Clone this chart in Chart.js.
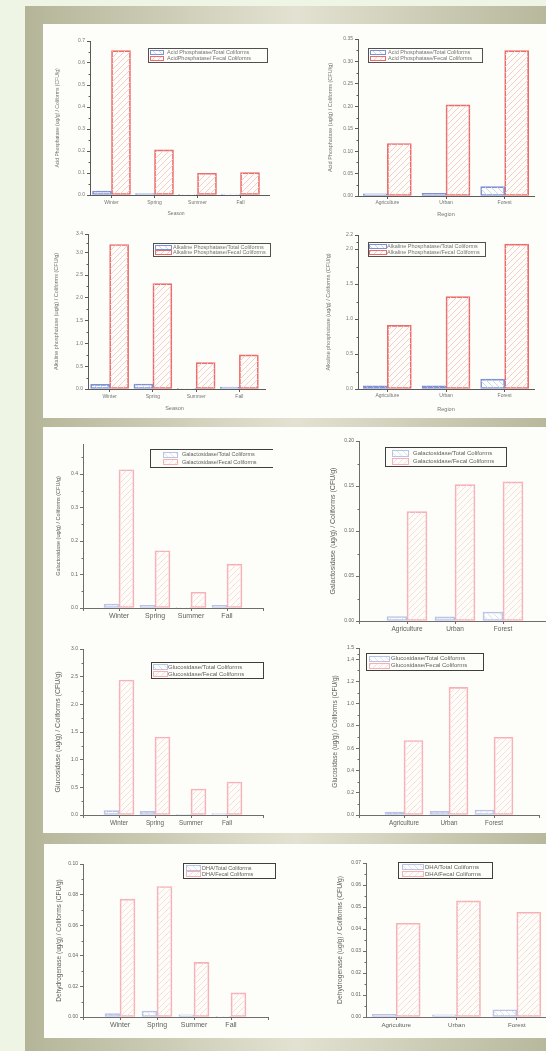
<!DOCTYPE html>
<html>
<head>
<meta charset="utf-8">
<script src="https://cdn.jsdelivr.net/npm/chart.js@4.4.0/dist/chart.umd.min.js"></script>
<style>
html, body { margin: 0; padding: 0; overflow: hidden; }
body { width: 546px; height: 1051px; background: #eef5e4; position: relative; }
#frame { position: absolute; left: 25px; top: 6px; width: 521px; height: 1045px;
  background: linear-gradient(90deg, #b4b598 0%, #e3e2d2 52%, #b7b89c 100%); }
.panel { position: absolute; left: 43px; width: 503px; background: #fdfdf9; }
canvas { position: absolute; }
</style>
</head>
<body>
<div id="frame"></div>
<div class="panel" style="top:24px;height:394px"></div>
<div class="panel" style="top:427px;height:406px"></div>
<div class="panel" style="top:844px;height:194px;left:44px"></div>
<script>
const seasons = ["Winter", "Spring", "Summer", "Fall"];
const regions = ["Agriculture", "Urban", "Forest"];

const acidSeasonTotal = [0.018, 0.007, 0.003, 0.004];
const acidSeasonFecal = [0.656, 0.205, 0.099, 0.102];
const acidRegionTotal = [0.005, 0.006, 0.021];
const acidRegionFecal = [0.117, 0.203, 0.324];
const alkSeasonTotal = [0.10, 0.11, 0.015, 0.04];
const alkSeasonFecal = [3.17, 2.31, 0.58, 0.75];
const alkRegionTotal = [0.045, 0.045, 0.14];
const alkRegionFecal = [0.91, 1.32, 2.07];
const galSeasonTotal = [0.012, 0.008, 0.001, 0.008];
const galSeasonFecal = [0.413, 0.171, 0.047, 0.131];
const galRegionTotal = [0.005, 0.0045, 0.010];
const galRegionFecal = [0.1215, 0.1515, 0.1545];
const gluSeasonTotal = [0.078, 0.066, 0.01, 0.024];
const gluSeasonFecal = [2.44, 1.41, 0.47, 0.596];
const gluRegionTotal = [0.027, 0.033, 0.045];
const gluRegionFecal = [0.669, 1.146, 0.698];
const dhaSeasonTotal = [0.0022, 0.0039, 0.0015, 0.0005];
const dhaSeasonFecal = [0.077, 0.0853, 0.0357, 0.0158];
const dhaRegionTotal = [0.0012, 0.001, 0.0033];
const dhaRegionFecal = [0.0426, 0.0528, 0.0476];

// y axis ranges (max, step) per chart
const yRanges = [[0.7, 0.1], [0.35, 0.05], [3.4, 0.5], [2.2, 0.5], [0.49, 0.1],
                 [0.2, 0.05], [3.0, 0.5], [1.5, 0.2], [0.1, 0.02], [0.07, 0.01]];

const charts = [
  { cats: seasons, total: acidSeasonTotal, fecal: acidSeasonFecal, xTitle: "Season",
    yTitle: "Acid Phosphatase (ug/g) / Coliforms (CFU/g)",
    names: ["Acid Phosphatase/Total Coliforms", "AcidPhosphatase/ Fecal Coliforms"] },
  { cats: regions, total: acidRegionTotal, fecal: acidRegionFecal, xTitle: "Region",
    yTitle: "Acid Phosphatase (ug/g) / Coliforms (CFU/g)",
    names: ["Acid Phosphatase/Total Coliforms", "Acid Phosphatase/Fecal Coliforms"] },
  { cats: seasons, total: alkSeasonTotal, fecal: alkSeasonFecal, xTitle: "Season",
    yTitle: "Alkaline phosphatase (ug/g) / Coliforms (CFU/g)",
    names: ["Alkaline Phosphatase/Total Coliforms", "Alkaline Phosphatase/Fecal Coliforms"] },
  { cats: regions, total: alkRegionTotal, fecal: alkRegionFecal, xTitle: "Region",
    yTitle: "Alkaline phosphatase (ug/g) / Coliforms (CFU/g)",
    names: ["Alkaline Phosphatase/Total Coliforms", "Alkaline Phosphatase/Fecal Coliforms"] },
  { cats: seasons, total: galSeasonTotal, fecal: galSeasonFecal,
    yTitle: "Galactosidase (ug/g) / Coliforms (CFU/g)",
    names: ["Galactosidase/Total Coliforms", "Galactosidase/Fecal Coliforms"] },
  { cats: regions, total: galRegionTotal, fecal: galRegionFecal,
    yTitle: "Galactosidase (ug/g) / Coliforms (CFU/g)",
    names: ["Galactosidase/Total Coliforms", "Galactosidase/Fecal Coliforms"] },
  { cats: seasons, total: gluSeasonTotal, fecal: gluSeasonFecal,
    yTitle: "Glucosidase (ug/g) / Coliforms (CFU/g)",
    names: ["Glucosidase/Total Coliforms", "Glucosidase/Fecal Coliforms"] },
  { cats: regions, total: gluRegionTotal, fecal: gluRegionFecal,
    yTitle: "Glucosidase (ug/g) / Coliforms (CFU/g)",
    names: ["Glucosidase/Total Coliforms", "Glucosidase/Fecal Coliforms"] },
  { cats: seasons, total: dhaSeasonTotal, fecal: dhaSeasonFecal,
    yTitle: "Dehydrogenase (ug/g) / Coliforms (CFU/g)",
    names: ["DHA/Total Coliforms", "DHA/Fecal Coliforms"] },
  { cats: regions, total: dhaRegionTotal, fecal: dhaRegionFecal,
    yTitle: "Dehydrogenase (ug/g) / Coliforms (CFU/g)",
    names: ["DHA/Total Coliforms", "DHA/Fecal Coliforms"] }
];

// page positions: y title x, plot box, label rows, bar width, fonts, legend box, x axis line end
const boxes = [
  { tx: 58, l: 90, t: 41, r: 262, b: 195, catY: 203, xtY: 213, fit: "half", bw: 19, fs: [5, 5, 5, 5.5], leg: [148, 48, 119, 14, 2, 13, 19], ax: 270, p: 1 },
  { tx: 330, l: 358, t: 39, r: 534, b: 196, catY: 203, xtY: 213, fit: "half", bw: 24, fs: [5, 5, 5.5, 5.5], leg: [368, 48, 114, 14, 2, 15, 20], p: 1 },
  { tx: 56, l: 88, t: 234, r: 261, b: 389, catY: 397, xtY: 407, fit: "half", bw: 19, fs: [5, 5, 5.5, 5.5], leg: [153, 243, 117, 13, 2, 16, 20], ax: 266, p: 1 },
  { tx: 328, l: 358, t: 235, r: 534, b: 389, catY: 396, xtY: 408, fit: "half", bw: 24, fs: [5, 5, 5.5, 5.5], leg: [368, 242, 117, 14, 1, 17, 19], p: 1 },
  { tx: 58, l: 83, t: 444, r: 263, b: 608, catY: 616, fit: "pad", bw: 15, fs: [5, 7, 5.5, 5.5], leg: [150, 449, 127, 18, 13, 14, 32], p: 2 },
  { tx: 333, l: 359, t: 441, r: 551, b: 621, catY: 629, fit: "pad", bw: 20, fs: [5, 6.5, 7, 6], leg: [385, 447, 121, 19, 7, 16, 28], p: 2 },
  { tx: 58, l: 83, t: 649, r: 263, b: 815, catY: 823, fit: "pad", bw: 15, fs: [5, 6.3, 7, 6], leg: [151, 662, 112, 16, 2, 14, 17], p: 2 },
  { tx: 335, l: 359, t: 648, r: 539, b: 815, catY: 823, fit: "pad", bw: 19, fs: [5, 6.3, 6.5, 6], leg: [366, 653, 117, 17, 3, 20, 25], p: 2 },
  { tx: 59, l: 83, t: 864, r: 268, b: 1017, catY: 1025, fit: "pad", bw: 15, fs: [5, 7, 6.5, 5.5], leg: [183, 863, 92, 15, 3, 14, 19], p: 2 },
  { tx: 340, l: 366, t: 863, r: 547, b: 1017, catY: 1025, fit: "half", bw: 24, fs: [5, 6.2, 6.8, 6], leg: [398, 862, 94, 16, 4, 21, 27], p: 2 }
];

const family = '"Liberation Sans", Arial, sans-serif';
const styles = {
  1: { red: "#ec6b6b", redH: "#f7cccc", blue: "#7f90d4", blueH: "#cfd5f0", axis: "#5a5a5a", text: "#747474", leg: "#505050" },
  2: { red: "#f7b0b5", redH: "#fadcdd", blue: "#b9c2e8", blueH: "#dde2f4", axis: "#6e6e6e", text: "#5e5e5e", leg: "#3e3e3e" }
};

function hatch(color, dir) {
  const s = 6, c = document.createElement("canvas");
  c.width = c.height = s;
  const g = c.getContext("2d");
  g.strokeStyle = color;
  g.lineWidth = 1;
  g.beginPath();
  if (dir > 0) {
    g.moveTo(0, s); g.lineTo(s, 0);
    g.moveTo(-1, 1); g.lineTo(1, -1);
    g.moveTo(s - 1, s + 1); g.lineTo(s + 1, s - 1);
  } else {
    g.moveTo(0, 0); g.lineTo(s, s);
    g.moveTo(-1, s - 1); g.lineTo(1, s + 1);
    g.moveTo(s - 1, -1); g.lineTo(s + 1, 1);
  }
  g.stroke();
  return g.createPattern(c, "repeat");
}

// boxed legend, minor y ticks and longer x axis line, Origin style
const originBits = {
  id: "originBits",
  afterDraw(chart, args, o) {
    const ctx = chart.ctx;
    const y = chart.scales.y;
    const x = chart.scales.x;
    ctx.save();
    ctx.strokeStyle = o.axis;
    ctx.lineWidth = 1;
    const t = y.ticks;
    for (let i = 0; i < t.length; i++) {
      const next = i + 1 < t.length ? t[i + 1].value : t[i].value + (t[1].value - t[0].value);
      const mid = (t[i].value + next) / 2;
      if (mid > y.max) break;
      const py = Math.round(y.getPixelForValue(mid)) + 0.5;
      ctx.beginPath();
      ctx.moveTo(y.right - 1.5, py);
      ctx.lineTo(y.right, py);
      ctx.stroke();
    }
    if (o.axEnd) {
      const py = Math.round(x.top) + 0.5;
      ctx.beginPath();
      ctx.moveTo(x.right, py);
      ctx.lineTo(o.axEnd, py);
      ctx.stroke();
    }
    const [x0, y0, w, h, sx, sw, tx] = o.box;
    ctx.strokeStyle = o.border;
    ctx.strokeRect(x0 + 0.5, y0 + 0.5, w, h);
    ctx.font = o.size + "px " + family;
    ctx.textBaseline = "middle";
    chart.data.datasets.forEach((ds, i) => {
      const ry = y0 + h * (i ? 0.72 : 0.3);
      const sh = Math.max(3, Math.round(h * 0.3));
      ctx.fillStyle = ds.backgroundColor;
      ctx.fillRect(x0 + sx, Math.round(ry - sh / 2), sw, sh);
      ctx.strokeStyle = ds.borderColor;
      ctx.strokeRect(x0 + sx + 0.5, Math.round(ry - sh / 2) + 0.5, sw, sh);
      ctx.fillStyle = o.text;
      ctx.fillText(ds.label, x0 + tx, ry + 0.5);
    });
    ctx.restore();
  }
};

function build(c, p, range) {
  const [fTick, fCat, fTitle, fLeg] = p.fs;
  const st = styles[p.p];
  const cx = Math.round(p.tx - fTitle * 0.6);
  const cy = p.t - 10;
  const bottom = p.xtY ? Math.ceil(p.xtY + fTitle * 0.6 + 1) : p.catY + 8;
  const right = Math.max(p.r, p.ax || 0) + 10;
  const canvas = document.createElement("canvas");
  canvas.width = right - cx;
  canvas.height = bottom - cy;
  canvas.style.left = cx + "px";
  canvas.style.top = cy + "px";
  document.body.appendChild(canvas);

  const pad = p.fit === "pad";
  const labels = pad ? ["", ...c.cats, ""] : c.cats;
  const wrap = v => pad ? [null, ...v, null] : v;
  const dec = (String(range[1]).split(".")[1] || "").length;
  const tickLen = 3;

  new Chart(canvas, {
    type: "bar",
    data: {
      labels: labels,
      datasets: [
        { label: c.names[0], data: wrap(c.total), borderColor: st.blue, backgroundColor: hatch(st.blueH, -1),
          borderWidth: 1, borderSkipped: false, barThickness: p.bw },
        { label: c.names[1], data: wrap(c.fecal), borderColor: st.red, backgroundColor: hatch(st.redH, 1),
          borderWidth: 1, borderSkipped: false, barThickness: p.bw }
      ]
    },
    options: {
      responsive: false,
      animation: false,
      events: [],
      layout: { padding: { top: p.t - cy, right: right - p.r, left: 0, bottom: 0 } },
      plugins: {
        legend: { display: false },
        tooltip: { enabled: false },
        originBits: {
          axis: st.axis, border: st.leg, text: st.text, size: fLeg,
          axEnd: p.ax ? p.ax - cx : 0,
          box: [p.leg[0] - cx, p.leg[1] - cy, p.leg[2], p.leg[3], p.leg[4], p.leg[5], p.leg[6]]
        }
      },
      scales: {
        x: {
          offset: !pad,
          grid: { display: true, drawOnChartArea: false, offset: false, tickLength: tickLen, color: st.axis },
          border: { display: true, color: st.axis },
          ticks: { color: st.text, font: { size: fCat, family: family }, autoSkip: false, maxRotation: 0,
                   padding: Math.max(0, p.catY - p.b - tickLen - fCat * 0.6) },
          title: { display: !!p.xtY, text: c.xTitle || "", color: st.text, padding: 0,
                   font: { size: fTitle, family: family } },
          afterFit: s => { s.height = bottom - p.b; }
        },
        y: {
          min: 0, max: range[0], bounds: "data",
          grid: { display: true, drawOnChartArea: false, tickLength: tickLen, color: st.axis },
          border: { display: true, color: st.axis },
          ticks: { stepSize: range[1], includeBounds: false, color: st.text, padding: 2,
                   font: { size: fTick, family: family }, callback: v => v.toFixed(dec) },
          title: { display: true, text: c.yTitle, color: st.text, padding: 0,
                   font: { size: fTitle, family: family } },
          afterFit: s => { s.width = p.l - cx; }
        }
      }
    },
    plugins: [originBits]
  });
}

charts.forEach((c, i) => build(c, boxes[i], yRanges[i]));
</script>
</body>
</html>
